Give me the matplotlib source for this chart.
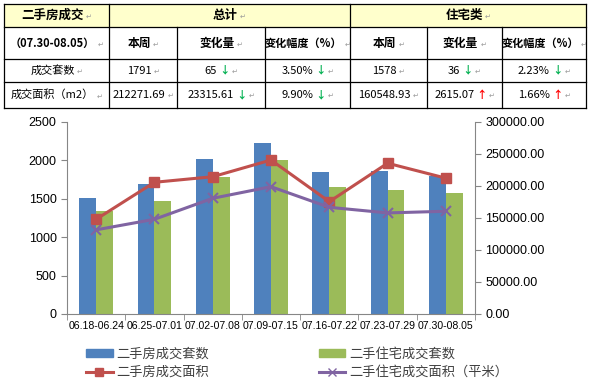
import matplotlib
matplotlib.use("Agg")
import matplotlib.pyplot as plt
from matplotlib.offsetbox import TextArea, HPacker, AnnotationBbox
from matplotlib.patches import Rectangle
from matplotlib.lines import Line2D
import numpy as np

CJK = ["Noto Sans CJK SC", "DejaVu Sans"]
LAT = ["Liberation Sans", "Noto Sans CJK SC", "DejaVu Sans"]

# chart data
weeks = ["06.18-06.24", "06.25-07.01", "07.02-07.08", "07.09-07.15",
         "07.16-07.22", "07.23-07.29", "07.30-08.05"]
sets_all = [1510, 1689, 2018, 2222, 1848, 1856, 1791]
sets_home = [1345, 1471, 1788, 2005, 1657, 1614, 1578]
area_all = [148000, 205800, 214500, 240600, 175500, 235587.30, 212271.69]
area_home = [131500, 148000, 180800, 198900, 166700, 157933.86, 160548.93]

series_names = ["二手房成交套数", "二手住宅成交套数", "二手房成交面积", "二手住宅成交面积（平米）"]
c_blue, c_green, c_red, c_purple = "#4F81BD", "#9BBB59", "#C0504D", "#8064A2"

fig = plt.figure(figsize=(5.9, 3.8), dpi=100)

# ---------- summary table (pixel layout) ----------
tax = fig.add_axes([0, 0, 1, 1])
tax.set_xlim(0, 590)
tax.set_ylim(380, 0)
tax.axis("off")
tax.patch.set_alpha(0)

col_x = [4, 109, 177, 265, 350, 427, 502, 586]
row_y = [4, 27, 59, 82, 108]

tax.add_patch(Rectangle((col_x[0], row_y[0]), col_x[-1] - col_x[0], row_y[1] - row_y[0],
                        facecolor="#FFFFCC", edgecolor="none"))
for y in row_y:
    tax.plot([col_x[0], col_x[-1]], [y, y], color="black", lw=0.9)
for i, x in enumerate(col_x):
    if i in (2, 3, 5, 6):
        tax.plot([x, x], [row_y[1], row_y[-1]], color="black", lw=0.9)
    else:
        tax.plot([x, x], [row_y[0], row_y[-1]], color="black", lw=0.9)


def cell(x0, x1, y0, y1, text, bold=False, size=8, arrow=None):
    parts = [TextArea(text, textprops=dict(family=CJK, fontsize=size,
                                           fontweight="bold" if bold else "normal"))]
    if arrow == "down":
        parts.append(TextArea("↓", textprops=dict(family=CJK, fontsize=7.5,
                                                  color="#00B050", fontweight="bold")))
    elif arrow == "up":
        parts.append(TextArea("↑", textprops=dict(family=CJK, fontsize=7.5,
                                                  color="#FF0000", fontweight="bold")))
    parts.append(TextArea("↵", textprops=dict(family=CJK, fontsize=5, color="#999999")))
    box = HPacker(children=parts, align="baseline", pad=0, sep=1.5)
    ab = AnnotationBbox(box, ((x0 + x1) / 2, (y0 + y1) / 2), xycoords="data",
                        frameon=False, box_alignment=(0.5, 0.5), pad=0)
    tax.add_artist(ab)


def pct(a, b):
    return abs(a - b) / b * 100


d_sets_all = sets_all[-1] - sets_all[-2]
d_sets_home = sets_home[-1] - sets_home[-2]
d_area_all = area_all[-1] - area_all[-2]
d_area_home = area_home[-1] - area_home[-2]


def arr(d):
    return "up" if d > 0 else "down"


cell(col_x[0], col_x[1], row_y[0], row_y[1], "二手房成交", bold=True, size=9)
cell(col_x[1], col_x[4], row_y[0], row_y[1], "总计", bold=True, size=9)
cell(col_x[4], col_x[7], row_y[0], row_y[1], "住宅类", bold=True, size=9)
cell(col_x[0], col_x[1], row_y[1], row_y[2], "（07.30-08.05）", bold=True, size=8)
for k, h in enumerate(["本周", "变化量", "变化幅度（%）"] * 2):
    cell(col_x[k + 1], col_x[k + 2], row_y[1], row_y[2], h, bold=True, size=8.5 if k % 3 < 2 else 8)

row3 = ["成交套数", f"{sets_all[-1]}", f"{abs(d_sets_all)}", f"{pct(sets_all[-1], sets_all[-2]):.2f}%",
        f"{sets_home[-1]}", f"{abs(d_sets_home)}", f"{pct(sets_home[-1], sets_home[-2]):.2f}%"]
row4 = ["成交面积（m2）", f"{area_all[-1]:.2f}", f"{abs(d_area_all):.2f}",
        f"{pct(area_all[-1], area_all[-2]):.2f}%", f"{area_home[-1]:.2f}",
        f"{abs(d_area_home):.2f}", f"{pct(area_home[-1], area_home[-2]):.2f}%"]
arr3 = [None, None, arr(d_sets_all), arr(d_sets_all), None, arr(d_sets_home), arr(d_sets_home)]
arr4 = [None, None, arr(d_area_all), arr(d_area_all), None, arr(d_area_home), arr(d_area_home)]
for k in range(7):
    cell(col_x[k], col_x[k + 1], row_y[2], row_y[3], row3[k], size=8, arrow=arr3[k])
    cell(col_x[k], col_x[k + 1], row_y[3], row_y[4], row4[k], size=8, arrow=arr4[k])

# ---------- combo chart ----------
ax = fig.add_axes([67 / 590, 1 - 314 / 380, (475 - 67) / 590, (314 - 122) / 380])
ax2 = ax.twinx()
x = np.arange(len(weeks))
w = 0.29
ax.bar(x - w / 2, sets_all, w, color=c_blue, zorder=2)
ax.bar(x + w / 2, sets_home, w, color=c_green, zorder=2)
ax2.plot(x, area_all, color=c_red, lw=2.2, marker="s", ms=7, zorder=3)
ax2.plot(x, area_home, color=c_purple, lw=2.2, marker="x", ms=7, mew=1.5, zorder=3)

ax.set_xlim(-0.5, len(weeks) - 0.5)
ax.set_ylim(0, 2500)
ax.set_yticks(np.arange(0, 2501, 500))
ax2.set_ylim(0, 300000)
ax2.set_yticks(np.arange(0, 300001, 50000))
ax2.set_yticklabels([f"{v:.2f}" for v in np.arange(0, 300001, 50000)])

ax.set_xticks(x)
ax.set_xticklabels(weeks, family=LAT, fontsize=7.6)
ax.set_xticks(np.arange(-0.5, len(weeks)), minor=True)
ax.tick_params(axis="x", which="major", length=0, pad=5)
ax.tick_params(axis="x", which="minor", length=4, color="#868686")

for a in (ax, ax2):
    for s in a.spines.values():
        s.set_visible(False)
    a.tick_params(axis="y", length=4, color="#868686", labelsize=9)
    for t in a.get_yticklabels():
        t.set_family(LAT)
ax.spines["left"].set_visible(True)
ax.spines["bottom"].set_visible(True)
ax2.spines["right"].set_visible(True)
for s in (ax.spines["left"], ax.spines["bottom"], ax2.spines["right"]):
    s.set_color("#868686")

handles = [Rectangle((0, 0), 1, 1, color=c_blue),
           Line2D([], [], color=c_red, lw=2.2, marker="s", ms=6),
           Rectangle((0, 0), 1, 1, color=c_green),
           Line2D([], [], color=c_purple, lw=2.2, marker="x", ms=6)]
labels = [series_names[0], series_names[2], series_names[1], series_names[3]]
leg = fig.legend(handles, labels, ncol=2, loc="upper left", bbox_to_anchor=(0.135, 0.102),
                 frameon=False, prop={"family": CJK, "size": 9.5},
                 handlelength=2.0, handleheight=0.5, handletextpad=0.3,
                 columnspacing=8.3, labelspacing=0.4, borderpad=0)
for t in leg.get_texts():
    t.set_color("#404040")

fig.savefig("out.png", dpi=100)
